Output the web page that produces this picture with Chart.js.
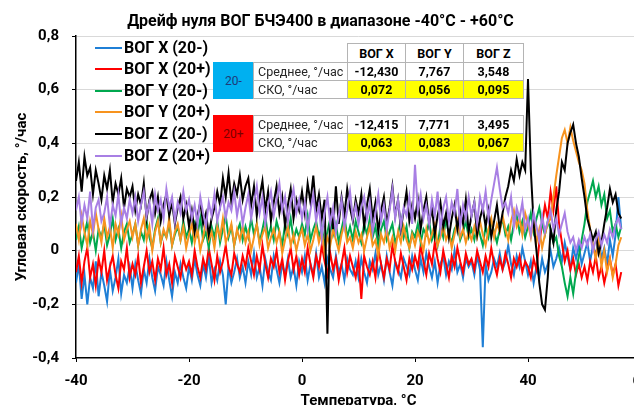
<!DOCTYPE html>
<html><head><meta charset="utf-8">
<script src="https://cdn.jsdelivr.net/npm/chart.js@4.4.1/dist/chart.umd.min.js"></script>
<style>
html,body{margin:0;padding:0;width:634px;height:405px;overflow:hidden;background:#fff;}
#wrap{position:absolute;left:0;top:0;width:686px;height:412px;}
.ov{position:absolute;font-family:Roboto,"Open Sans",sans-serif;box-sizing:border-box;white-space:nowrap;}
.leg{font-weight:bold;font-size:16px;line-height:20px;color:#000;}
.cell{border:1px solid #b4b4b4;background:#fff;font-size:12.5px;display:flex;align-items:center;justify-content:center;color:#000;}
.lab{justify-content:flex-start;padding-left:4px;color:#262626;}
.val{font-weight:bold;}
.hdr{font-weight:bold;font-size:12.5px;}
.yel{background:#ffff00;}
#err{position:absolute;left:300px;top:300px;color:#f0f;font-size:20px;}
</style></head><body>
<div id="wrap"><canvas id="c" width="686" height="412"></canvas></div>
<div id="overlay"></div>
<div id="err"></div>
<script>
// ---- Data ----
const titleText = 'Дрейф нуля ВОГ БЧЭ400 в диапазоне -40°C - +60°C';
const xTitle = 'Температура, °C';
const yTitle = 'Угловая скорость, °/час';

const temps = [
-40,-39.5,-39,-38.5,-38,-37.5,-37,-36.5,-36,-35.5,-35,-34.5,-34,-33.5,-33,-32.5,-32,-31.5,-31,-30.5,
-30,-29.5,-29,-28.5,-28,-27.5,-27,-26.5,-26,-25.5,-25,-24.5,-24,-23.5,-23,-22.5,-22,-21.5,-21,-20.5,
-20,-19.5,-19,-18.5,-18,-17.5,-17,-16.5,-16,-15.5,-15,-14.5,-14,-13.5,-13,-12.5,-12,-11.5,-11,-10.5,
-10,-9.5,-9,-8.5,-8,-7.5,-7,-6.5,-6,-5.5,-5,-4.5,-4,-3.5,-3,-2.5,-2,-1.5,-1,-0.5,
0,0.5,1,1.5,2,2.5,3,3.5,4,4.5,5,5.5,6,6.5,7,7.5,8,8.5,9,9.5,
10,10.5,11,11.5,12,12.5,13,13.5,14,14.5,15,15.5,16,16.5,17,17.5,18,18.5,19,19.5,
20,20.5,21,21.5,22,22.5,23,23.5,24,24.5,25,25.5,26,26.5,27,27.5,28,28.5,29,29.5,
30,30.5,31,31.5,32,32.5,33,33.5,34,34.5,35,35.5,36,36.5,37,37.5,38,38.5,39,39.5,
40,40.5,41,41.5,42,42.5,43,43.5,44,44.5,45,45.5,46,46.5,47,47.5,48,48.5,49,49.5,
50,50.5,51,51.5,52,52.5,53,53.5,54,54.5,55,55.5,56,56.5];

const vogX20m = [
-0.12,-0.05,-0.18,-0.09,-0.2,-0.1,-0.14,-0.04,-0.17,-0.08,-0.13,-0.19,-0.07,-0.15,-0.1,-0.03,-0.16,-0.09,-0.12,-0.06,
-0.14,-0.05,-0.11,-0.16,-0.07,-0.12,-0.03,-0.1,-0.15,-0.06,-0.09,-0.13,-0.04,-0.11,-0.17,-0.08,-0.12,-0.05,-0.1,-0.14,
-0.06,-0.11,-0.03,-0.09,-0.13,-0.05,-0.1,-0.02,-0.12,-0.07,-0.11,-0.04,-0.09,-0.2,-0.06,-0.12,-0.08,-0.03,-0.1,-0.06,
-0.12,-0.04,-0.09,-0.01,-0.1,-0.06,-0.13,-0.03,-0.08,-0.11,-0.02,-0.07,-0.12,-0.05,-0.09,-0.03,-0.1,-0.06,-0.13,-0.04,
-0.08,-0.02,-0.11,-0.05,-0.09,-0.01,-0.1,-0.06,-0.12,-0.03,-0.07,-0.1,-0.02,-0.08,-0.05,-0.11,-0.03,-0.07,-0.09,-0.04,
-0.1,-0.03,-0.08,-0.12,-0.04,-0.07,-0.01,-0.09,-0.05,-0.11,-0.02,-0.08,-0.13,-0.04,-0.07,-0.1,-0.03,-0.06,-0.09,-0.02,
-0.07,-0.11,-0.03,-0.08,-0.01,-0.06,-0.1,-0.04,-0.12,-0.05,-0.02,-0.09,-0.04,-0.07,0.0,-0.08,-0.05,-0.1,-0.03,-0.06,
-0.04,-0.09,-0.02,-0.07,-0.36,-0.05,-0.11,-0.08,-0.03,-0.06,-0.01,-0.07,-0.04,0.02,-0.05,-0.09,-0.02,-0.06,0.01,-0.04,
-0.09,-0.04,-0.12,-0.06,-0.1,-0.03,-0.08,-0.05,0.0,-0.06,-0.03,0.01,-0.04,0.03,-0.02,-0.07,0.01,-0.03,0.02,-0.05,
-0.01,0.03,-0.04,0.02,-0.02,0.05,-0.03,0.01,-0.05,0.04,-0.02,0.06,0.2,0.08];

const vogX20p = [
-0.08,-0.02,-0.12,-0.04,0.01,-0.1,-0.05,-0.13,-0.03,-0.08,0.0,-0.11,-0.06,-0.02,-0.09,-0.14,-0.04,-0.07,0.01,-0.1,
-0.05,-0.09,-0.02,-0.12,-0.06,0.0,-0.08,-0.04,-0.11,-0.03,-0.07,0.01,-0.09,-0.05,-0.12,-0.02,-0.06,-0.1,-0.03,-0.07,
-0.04,-0.09,0.0,-0.06,-0.1,-0.03,-0.07,0.01,-0.05,-0.11,-0.02,-0.08,-0.04,0.02,-0.06,-0.09,-0.01,-0.05,-0.08,-0.02,
-0.06,0.01,-0.04,-0.09,-0.02,-0.07,0.02,-0.05,-0.1,-0.03,-0.06,0.0,-0.08,-0.03,-0.11,-0.04,0.01,-0.07,-0.02,-0.09,
-0.03,-0.08,0.01,-0.05,-0.1,-0.02,-0.06,0.02,-0.04,-0.09,-0.01,-0.07,-0.03,-0.11,-0.05,0.01,-0.08,-0.02,-0.06,-0.1,
-0.03,-0.18,-0.02,-0.06,-0.09,-0.04,-0.1,0.01,-0.05,-0.1,-0.03,-0.07,0.02,-0.04,-0.08,-0.01,-0.06,-0.11,-0.03,-0.07,
-0.02,-0.06,0.02,-0.04,-0.09,-0.01,-0.05,0.03,-0.03,-0.08,0.0,-0.05,-0.1,-0.02,-0.06,0.01,-0.04,-0.08,-0.01,-0.05,
-0.03,-0.07,0.0,-0.04,-0.08,-0.02,-0.06,0.01,-0.05,-0.09,-0.03,-0.07,-0.01,-0.05,-0.1,-0.03,-0.06,-0.02,-0.08,-0.04,
-0.06,-0.1,-0.03,-0.07,0.03,0.1,0.17,0.12,0.22,0.15,0.24,0.1,0.03,-0.04,0.0,-0.07,-0.03,-0.09,-0.05,-0.1,
-0.06,-0.11,-0.04,-0.08,-0.02,-0.1,-0.06,-0.12,-0.07,-0.03,-0.09,-0.05,-0.13,-0.08];

const vogY20m = [
0.04,0.09,0.01,0.06,0.11,0.03,0.07,0.0,0.08,0.05,0.1,0.02,0.06,0.12,0.04,0.08,0.01,0.07,0.1,0.03,
0.06,0.1,0.02,0.07,0.04,0.11,0.05,0.01,0.08,0.12,0.03,0.07,0.05,0.1,0.02,0.06,0.09,0.04,0.11,0.05,
0.08,0.03,0.1,0.06,0.12,0.04,0.07,0.01,0.09,0.05,0.11,0.03,0.08,0.13,0.05,0.09,0.02,0.07,0.1,0.04,
0.09,0.05,0.12,0.06,0.1,0.03,0.08,0.13,0.05,0.09,0.04,0.11,0.07,0.02,0.1,0.06,0.12,0.04,0.08,0.05,
0.1,0.06,0.13,0.04,0.08,0.11,0.05,0.09,0.02,0.07,0.12,0.06,0.1,0.03,0.08,0.13,0.05,0.09,0.04,0.11,
0.07,0.03,0.1,0.06,0.12,0.05,0.09,0.02,0.08,0.11,0.04,0.07,0.1,0.03,0.06,0.12,0.05,0.09,0.01,0.07,
0.05,0.1,0.03,0.08,0.06,0.11,0.04,0.07,0.02,0.09,0.05,0.12,0.06,0.03,0.08,0.1,0.04,0.07,0.11,0.05,
0.08,0.04,0.1,0.06,0.02,0.09,0.05,0.11,0.07,0.03,0.08,0.12,0.06,0.09,0.04,0.1,0.13,0.07,0.11,0.05,
0.09,0.14,0.07,0.12,0.16,0.1,0.06,0.11,0.08,0.03,0.05,-0.02,-0.06,-0.12,-0.17,-0.1,-0.16,-0.08,-0.02,0.04,
0.1,0.18,0.22,0.26,0.2,0.24,0.17,0.21,0.12,0.15,0.07,0.1,0.05,0.09];

const vogY20p = [
0.1,0.04,0.13,0.07,0.02,0.11,0.06,0.14,0.08,0.03,0.12,0.05,0.09,0.01,0.1,0.06,0.13,0.04,0.08,0.11,
0.05,0.1,0.02,0.08,0.12,0.04,0.09,0.0,0.07,0.11,0.03,0.08,0.05,0.12,0.02,0.07,0.1,0.04,0.09,0.01,
0.06,0.1,0.03,0.08,0.0,0.05,0.11,0.04,0.07,0.01,0.09,0.05,0.12,0.03,0.06,0.1,0.02,0.08,0.04,0.09,
0.03,0.07,0.0,0.05,0.1,0.02,0.06,0.09,0.01,0.05,0.08,0.03,0.07,-0.01,0.04,0.09,0.02,0.06,0.0,0.05,
0.08,0.02,0.06,0.0,0.04,0.09,0.03,0.07,-0.01,0.05,0.02,0.08,0.04,0.0,0.06,0.1,0.03,0.05,0.01,0.07,
0.03,0.06,0.0,0.05,0.09,0.02,0.04,-0.02,0.06,0.03,0.08,0.01,0.05,0.0,0.07,0.03,0.09,0.04,0.01,0.06,
0.02,0.07,0.04,0.0,0.08,0.03,0.06,0.1,0.02,0.05,0.09,0.04,0.07,0.01,0.06,0.11,0.05,0.08,0.03,0.07,
0.04,0.09,0.05,0.11,0.06,0.02,0.08,0.12,0.05,0.1,0.07,0.13,0.08,0.04,0.11,0.15,0.09,0.12,0.06,0.14,
0.1,0.05,0.12,0.03,0.08,0.01,0.06,0.1,0.12,0.2,0.28,0.35,0.42,0.45,0.4,0.46,0.41,0.37,0.33,0.3,
0.25,0.15,0.08,0.02,-0.03,0.04,-0.06,0.0,-0.08,-0.03,-0.1,-0.05,0.02,0.05];

const vogZ20m = [
0.26,0.33,0.22,0.35,0.28,0.31,0.21,0.3,0.25,0.19,0.28,0.23,0.3,0.18,0.25,0.21,0.27,0.16,0.23,0.2,
0.24,0.15,0.21,0.17,0.25,0.12,0.19,0.22,0.14,0.2,0.11,0.17,0.21,0.13,0.18,0.1,0.16,0.2,0.12,0.17,
0.09,0.15,0.07,0.13,0.18,0.1,0.14,0.06,0.12,0.16,0.22,0.17,0.27,0.2,0.29,0.18,0.25,0.21,0.28,0.19,
0.24,0.27,0.17,0.24,0.13,0.2,0.26,0.15,0.22,0.11,0.18,0.24,0.14,0.2,0.09,0.17,0.23,0.12,0.19,0.15,
0.22,0.14,0.25,0.18,0.28,0.15,0.21,0.12,0.19,-0.31,0.16,0.08,0.24,0.1,0.2,0.13,0.23,0.16,0.11,0.19,
0.14,0.21,0.09,0.17,0.23,0.12,0.18,0.07,0.15,0.2,0.1,0.16,0.24,0.13,0.19,0.08,0.15,0.22,0.11,0.17,
0.12,0.19,0.08,0.15,0.2,0.1,0.16,0.06,0.13,0.18,0.09,0.14,0.05,0.12,0.17,0.08,0.15,0.1,0.19,0.07,
0.13,0.18,0.06,0.12,0.16,0.09,0.15,0.05,0.11,0.17,0.08,0.14,0.2,0.24,0.3,0.26,0.34,0.28,0.33,0.3,
0.64,0.3,0.1,0.0,-0.12,-0.2,-0.22,-0.1,0.08,0.03,0.15,0.22,0.33,0.3,0.4,0.44,0.47,0.4,0.35,0.27,
0.2,0.12,0.08,0.04,0.07,-0.01,0.03,0.1,0.16,0.23,0.18,0.21,0.14,0.12];

const vogZ20p = [
0.15,0.2,0.1,0.17,0.12,0.22,0.08,0.16,0.19,0.11,0.14,0.2,0.09,0.17,0.13,0.21,0.1,0.16,0.12,0.19,
0.14,0.2,0.11,0.17,0.22,0.13,0.18,0.1,0.21,0.15,0.19,0.12,0.23,0.16,0.2,0.11,0.18,0.14,0.22,0.15,
0.19,0.12,0.17,0.1,0.2,0.14,0.09,0.18,0.13,0.21,0.11,0.16,0.2,0.12,0.18,0.15,0.22,0.13,0.19,0.1,
0.16,0.21,0.12,0.18,0.24,0.14,0.2,0.1,0.17,0.22,0.13,0.19,0.25,0.15,0.2,0.11,0.18,0.23,0.14,0.19,
0.12,0.18,0.08,0.15,0.21,0.11,0.17,0.05,0.14,0.2,0.1,0.16,0.07,0.13,0.19,0.09,0.15,0.22,0.12,0.17,
0.1,0.16,0.2,0.12,0.18,0.07,0.14,0.21,0.11,0.17,0.08,0.15,0.23,0.12,0.19,0.09,0.16,0.13,0.2,0.1,
0.32,0.15,0.21,0.12,0.17,0.1,0.19,0.13,0.22,0.08,0.16,0.2,0.11,0.18,0.14,0.23,0.09,0.17,0.12,0.2,
0.13,0.18,0.1,0.2,0.15,0.22,0.12,0.19,0.25,0.31,0.23,0.16,0.18,0.14,0.2,0.09,0.16,0.12,0.18,0.08,
0.12,0.06,0.14,0.09,0.04,0.13,0.07,0.11,0.15,0.08,0.12,0.06,0.1,0.14,0.07,0.03,0.05,0.0,0.04,0.01,
0.05,0.02,0.06,0.0,0.04,0.07,0.02,0.06,0.03,0.08,0.05,0.1,0.12,0.08];

const seriesNames = ['ВОГ X (20-)','ВОГ X (20+)','ВОГ Y (20-)','ВОГ Y (20+)','ВОГ Z (20-)','ВОГ Z (20+)'];
const seriesValues = [vogX20m, vogX20p, vogY20m, vogY20p, vogZ20m, vogZ20p];
const seriesColors = ['#1f7fd6','#ff0000','#00a84f','#f7931e','#000000','#a87fe4'];

const yTicks = [-0.4,-0.2,0,0.2,0.4,0.6,0.8];
const xTicks = [-40,-20,0,20,40,60];

// table
const tableCols = ['ВОГ X','ВОГ Y','ВОГ Z'];
const rowLabels = ['Среднее, °/час','СКО, °/час'];
const groupNames = ['20-','20+'];
const meanVals = [['-12,430','7,767','3,548'],['-12,415','7,771','3,495']];
const skoVals  = [['0,072','0,056','0,095'],['0,063','0,083','0,067']];

// ---- checks ----
seriesValues.forEach((s,i)=>{ if(s.length!==temps.length) document.getElementById('err').textContent += seriesNames[i]+':'+s.length+' '; });

const FONT = 'Roboto, "Open Sans", sans-serif';
const datasets = seriesValues.map((vals,i)=>({
  label: seriesNames[i],
  data: vals.map((v,j)=>({x: temps[j], y: v})),
  borderColor: seriesColors[i],
  backgroundColor: seriesColors[i],
  borderWidth: 2,
  pointRadius: 0,
  tension: 0,
  fill: false,
  order: seriesValues.length - i
}));

new Chart(document.getElementById('c'), {
  type: 'line',
  data: { datasets },
  options: {
    responsive: false,
    animation: false,
    layout: { padding: { left: 0, right: 45, top: 0, bottom: 0 } },
    plugins: {
      legend: { display: false },
      tooltip: { enabled: false },
      title: {
        display: true, text: titleText, color: '#000',
        font: { family: FONT, size: 16, weight: 'bold', lineHeight: 1.2 },
        padding: { top: 12, bottom: 4.8 }
      }
    },
    scales: {
      x: {
        type: 'linear', min: -40, max: 60,
        afterBuildTicks: s => { s.ticks = xTicks.map(v=>({value:v})); },
        afterFit: s => { s.height = 54; },
        grid: { drawOnChartArea: false, drawTicks: true, tickLength: 4, tickColor: '#000' },
        border: { display: true, color: '#000', width: 1.5 },
        ticks: { color: '#000', padding: 10, maxRotation: 0, font: { family: FONT, size: 15, weight: 'bold' },
                 callback: v => String(v) },
        title: { display: true, text: xTitle, color: '#000', padding: { top: 0, bottom: 2 },
                 font: { family: FONT, size: 15, weight: 'bold', lineHeight: 1.2 } }
      },
      y: {
        min: -0.4, max: 0.8,
        afterBuildTicks: s => { s.ticks = yTicks.map(v=>({value:v})); },
        afterFit: s => { s.width = 76; },
        grid: { color: c => (c.tick && Math.abs(c.tick.value + 0.4) < 1e-9) ? 'rgba(0,0,0,0)' : '#d9d9d9',
                lineWidth: 1, drawTicks: true, tickLength: 4, tickColor: '#000' },
        border: { display: true, color: '#000', width: 1.5 },
        ticks: { color: '#000', padding: 13, font: { family: FONT, size: 15, weight: 'bold' },
                 callback: v => Math.abs(v) < 1e-9 ? '0' : v.toFixed(1).replace('.', ',') },
        title: { display: true, text: yTitle, color: '#000', padding: { top: 13, bottom: 0 },
                 font: { family: FONT, size: 15, weight: 'bold', lineHeight: 1.2 } }
      }
    }
  }
});

// ---- overlays: legend and statistics table ----
const ov = document.getElementById('overlay');
function box(x,y,w,h,cls,text,style){
  const d=document.createElement('div');
  d.className='ov '+cls;
  d.style.left=x+'px'; d.style.top=y+'px'; d.style.width=w+'px'; d.style.height=h+'px';
  if(style) Object.assign(d.style, style);
  d.textContent=text||'';
  ov.appendChild(d); return d;
}
const legTop = 47.5, legStep = 21.6;
seriesNames.forEach((n,i)=>{
  const cy = legTop + i*legStep;
  box(95, cy-1, 27, 2, '', '', {background: seriesColors[i]});
  box(124, cy-10, 110, 20, 'leg', n);
});

const colX = [347,405,463], colW = [58,58,60];
tableCols.forEach((c,i)=> box(colX[i],43,colW[i]+1,20,'cell hdr',c));
const groupTop = [62,115];
const groupBg = ['#00b0f0','#ff0000'];
const groupFg = ['#1f3a78','#7a0000'];
groupNames.forEach((g,gi)=>{
  const t = groupTop[gi];
  box(213,t,41,37,'cell',g,{background:groupBg[gi],color:groupFg[gi],border:'none',fontSize:'12px'});
  box(253,t,95,19,'cell lab',rowLabels[0]);
  box(253,t+18,95,19,'cell lab',rowLabels[1]);
  meanVals[gi].forEach((v,i)=> box(colX[i],t,colW[i]+1,19,'cell val',v));
  skoVals[gi].forEach((v,i)=> box(colX[i],t+18,colW[i]+1,19,'cell val yel',v));
});
</script>
</body></html>
